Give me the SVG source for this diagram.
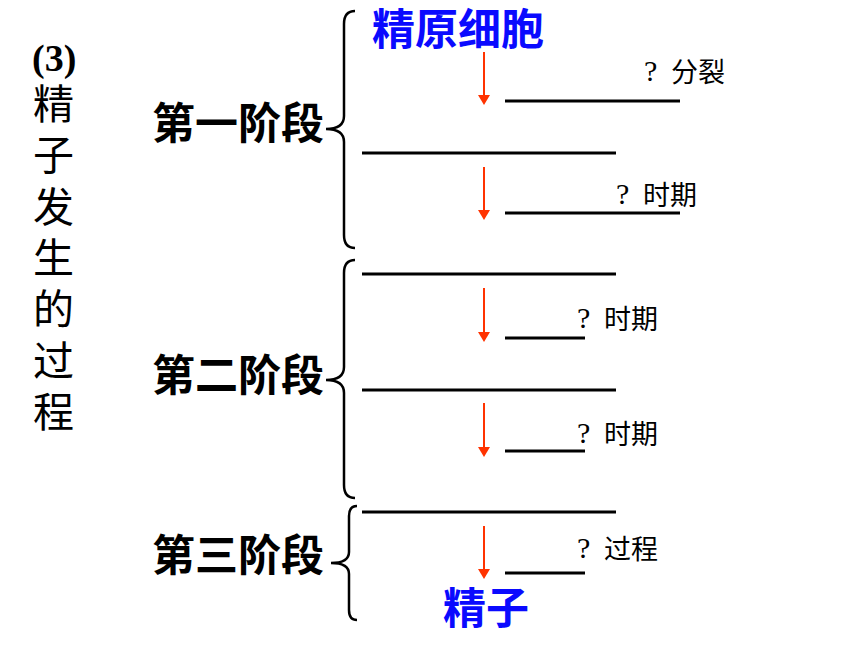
<svg xmlns="http://www.w3.org/2000/svg" width="860" height="645" viewBox="0 0 860 645">
<style>
.cn{font-family:"Noto Sans CJK SC","Noto Sans",sans-serif;fill:#000}
.side{font-size:41px}
.stage{font-size:43px;font-weight:bold}
.blue{font-size:43px;font-weight:bold;fill:#0a0aff}
.lbl{font-size:27px}
.q{font-family:"Liberation Serif",serif;font-size:30px;fill:#000}
.num{font-family:"Liberation Serif",serif;font-size:38px;font-weight:bold;fill:#000}
.brace{fill:none;stroke:#000;stroke-width:2.5}
.blank{stroke:#000;stroke-width:3}
.arr{stroke:#ff3300;stroke-width:2}
.head{fill:#ff3300}
</style>
<rect width="860" height="645" fill="#fff"/>
<g id="title">
<text class="num" x="32" y="71">(3)</text>
<text class="cn side" x="33" y="119">精</text>
<text class="cn side" x="33" y="170">子</text>
<text class="cn side" x="33" y="222">发</text>
<text class="cn side" x="33" y="273">生</text>
<text class="cn side" x="33" y="324">的</text>
<text class="cn side" x="33" y="376">过</text>
<text class="cn side" x="33" y="427">程</text>
</g>
<g id="stage1">
<text class="cn stage" x="152" y="139">第一阶段</text>
<path class="brace" d="M355 11 Q344 11 344 24 L344 116 Q344 129 326 129 Q344 129 344 142 L344 235 Q344 248 355 248"/>
</g>
<g id="stage2">
<text class="cn stage" x="152" y="391">第二阶段</text>
<path class="brace" d="M355 260 Q344 260 344 273 L344 367 Q344 380 326 380 Q344 380 344 393 L344 485 Q344 498 355 498"/>
</g>
<g id="stage3">
<text class="cn stage" x="152" y="571">第三阶段</text>
<path class="brace" d="M357 506 Q349 506 349 516 L349 552 Q349 563 331 563 Q349 563 349 574 L349 610 Q349 620 357 620"/>
</g>
<g id="start"><text class="cn blue" x="372" y="45">精原细胞</text></g>
<g id="end"><text class="cn blue" x="443" y="624">精子</text></g>
<g id="blanks">
<line class="blank" x1="505" y1="101" x2="680" y2="101"/>
<line class="blank" x1="362" y1="153" x2="616" y2="153"/>
<line class="blank" x1="505" y1="213" x2="680" y2="213"/>
<line class="blank" x1="362" y1="274" x2="616" y2="274"/>
<line class="blank" x1="505" y1="338" x2="585" y2="338"/>
<line class="blank" x1="362" y1="390" x2="616" y2="390"/>
<line class="blank" x1="505" y1="451" x2="585" y2="451"/>
<line class="blank" x1="362" y1="512" x2="616" y2="512"/>
<line class="blank" x1="505" y1="573" x2="585" y2="573"/>
</g>
<g id="labels">
<text class="q" x="644" y="81">?</text><text class="cn lbl" x="671" y="82">分裂</text>
<text class="q" x="616" y="204">?</text><text class="cn lbl" x="643" y="205">时期</text>
<text class="q" x="577" y="328">?</text><text class="cn lbl" x="604" y="329">时期</text>
<text class="q" x="577" y="443">?</text><text class="cn lbl" x="604" y="444">时期</text>
<text class="q" x="577" y="558">?</text><text class="cn lbl" x="604" y="559">过程</text>
</g>
<g id="connectors">
<line class="arr" x1="484" y1="52" x2="484" y2="96"/><polygon class="head" points="478,95 490,95 484,105"/>
<line class="arr" x1="484" y1="167" x2="484" y2="211"/><polygon class="head" points="478,210 490,210 484,220"/>
<line class="arr" x1="484" y1="288" x2="484" y2="333"/><polygon class="head" points="478,332 490,332 484,342"/>
<line class="arr" x1="484" y1="403" x2="484" y2="448"/><polygon class="head" points="478,447 490,447 484,457"/>
<line class="arr" x1="484" y1="526" x2="484" y2="570"/><polygon class="head" points="478,569 490,569 484,579"/>
</g>
</svg>
